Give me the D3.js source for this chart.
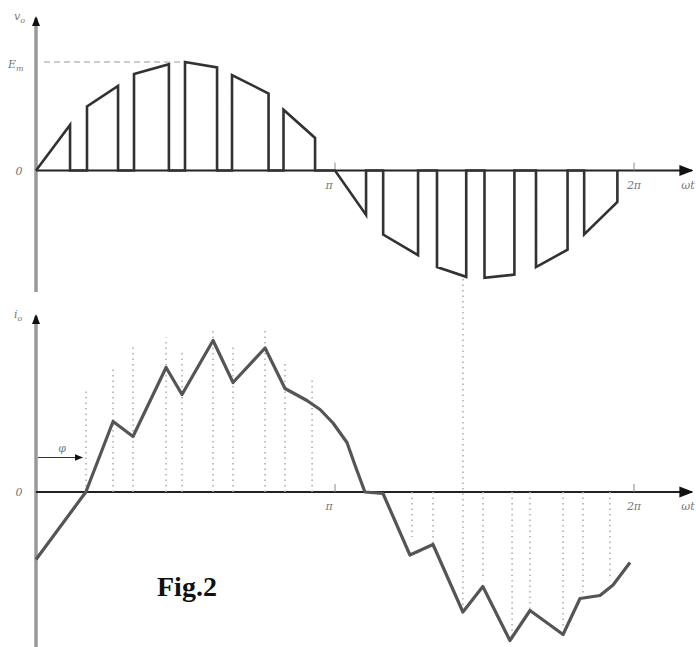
<!DOCTYPE html>
<meta charset="utf-8">
<style>
body, html {
  margin: 0;
  padding: 0;
  background: #fff;
}
.lbl {
  font: italic 11px "DejaVu Serif", "Liberation Serif", serif;
  fill: #777;
}
.fig {
  font: bold 28px "Liberation Serif", "DejaVu Serif", serif;
  fill: #111;
}
</style>
<div id="svg-div"></div>
<script src="https://d3js.org/d3.v7.min.js"></script>
<script>
// switching pulses of the output voltage (angle in degrees, level in E_m units)
const pulseOn   = [0, 30.7, 59, 89.7, 118, 149, 180, 209, 241.4, 270, 301, 330];
const pulseOff  = [20.5, 49.4, 80, 109, 140, 168, 198.7, 230, 259, 288, 320, 350];
const pulseVOn  = [0, 0.59, 0.89, 1.0, 0.88, 0.56, 0, -0.59, -0.89, -0.99, -0.89, -0.59];
const pulseVOff = [0.42, 0.78, 0.98, 0.95, 0.71, 0.30, -0.41, -0.78, -0.98, -0.96, -0.73, -0.29];

// load current
const iAngle = [0, 30, 46.4, 58.4, 78.3, 87.9, 106.6, 118.6, 137.9, 149.9, 163.1, 171, 178.8,
                187.2, 192, 198, 208.9, 225.1, 239, 257, 269, 285.3, 297.4, 317.3, 327.5,
                339.5, 347.4, 357.6];
const iValue = [-0.45, 0, 0.47, 0.37, 0.83, 0.65, 1.01, 0.73, 0.96, 0.69, 0.61, 0.55, 0.46,
                0.33, 0.18, 0, -0.01, -0.42, -0.35, -0.8, -0.63, -0.99, -0.79, -0.95, -0.71,
                -0.69, -0.62, -0.47];

// dotted guide lines in the current plot (angle, end level)
const guideAngle = [30.1, 46.4, 58.4, 78.3, 87.9, 106.6, 118.6, 137.9, 149.9, 166.2,
                    226.4, 239, 269.1, 286.6, 297.4, 317.3, 329.3, 345.5];
const guideValue = [0.69, 0.83, 0.98, 1.03, 0.93, 1.09, 0.99, 1.09, 0.87, 0.75,
                    -0.3, -0.37, -0.59, -0.97, -0.79, -0.9, -0.67, -0.59];

const tickAngle = [180, 360];
const tickLabel = ["\u03c0", "2\u03c0"];
const phiAngle = 29;

const width = 696, height = 647;

let svg = d3.select("#svg-div")
            .append("svg")
            .attr("width", width)
            .attr("height", height)
            .style("background", "#fff");

let x = d3.scaleLinear().domain([0, 360]).range([36, 634]);
let yTop = d3.scaleLinear().domain([-1, 1]).range([279, 62]);
let yBot = d3.scaleLinear().domain([-1, 1]).range([642, 342]);

let defs = svg.append("defs");
defs.append("marker")
    .attr("id", "arr")
    .attr("viewBox", "0 0 10 10")
    .attr("refX", 9).attr("refY", 5)
    .attr("markerWidth", 7).attr("markerHeight", 7)
    .attr("orient", "auto")
  .append("path")
    .attr("d", "M0,1L10,5L0,9Z")
    .attr("fill", "#111");
defs.append("filter")
    .attr("id", "soft")
  .append("feGaussianBlur")
    .attr("stdDeviation", 0.5);

function axes(y, y0, y1, yLabel) {
  // vertical axis
  svg.append("line")
     .attr("x1", x(0)).attr("x2", x(0))
     .attr("y1", y1).attr("y2", y0)
     .attr("stroke", "#999").attr("stroke-width", 3.5);
  svg.append("path")
     .attr("d", "M" + (x(0) - 4) + "," + (y0 + 8) + "L" + x(0) + "," + (y0 - 2) + "L" + (x(0) + 4) + "," + (y0 + 8) + "Z")
     .attr("fill", "#111");
  // horizontal axis
  svg.append("line")
     .attr("x1", x(0)).attr("x2", 692)
     .attr("y1", y(0)).attr("y2", y(0))
     .attr("stroke", "#222").attr("stroke-width", 2)
     .attr("marker-end", "url(#arr)");
  tickAngle.forEach(function(a, i) {
    svg.append("line")
       .attr("x1", x(a)).attr("x2", x(a))
       .attr("y1", y(0) - 8).attr("y2", y(0))
       .attr("stroke", "#888").attr("stroke-width", 1);
    svg.append("text")
       .attr("class", "lbl")
       .attr("x", x(a) - (i ? 0 : 6)).attr("y", y(0) + 18)
       .attr("text-anchor", "middle")
       .text(tickLabel[i]);
  });
  svg.append("text").attr("class", "lbl")
     .attr("x", 688).attr("y", y(0) + 18)
     .attr("text-anchor", "middle")
     .text("\u03c9t");
  svg.append("text").attr("class", "lbl")
     .attr("x", 19).attr("y", y(0) + 4)
     .attr("text-anchor", "middle")
     .text("0");
  let t = svg.append("text").attr("class", "lbl")
     .attr("x", 14).attr("y", y0 + 2);
  t.append("tspan").text(yLabel[0]);
  t.append("tspan").attr("dy", 3).style("font-size", "8px").text(yLabel[1]);
}

axes(yTop, 18, 292, ["v", "o"]);
axes(yBot, 316, 647, ["i", "o"]);

// E_m reference
svg.append("line")
   .attr("x1", x(0) + 8).attr("x2", x(90))
   .attr("y1", yTop(1)).attr("y2", yTop(1))
   .attr("stroke", "#999").attr("stroke-width", 1)
   .attr("stroke-dasharray", "6,4");
let em = svg.append("text").attr("class", "lbl")
   .attr("x", 8).attr("y", yTop(1) + 6);
em.append("tspan").text("E");
em.append("tspan").attr("dy", 3).style("font-size", "8px").text("m");

// PWM voltage waveform
let vPts = [];
pulseOn.forEach(function(a, i) {
  vPts.push([a, 0], [a, pulseVOn[i]], [pulseOff[i], pulseVOff[i]], [pulseOff[i], 0]);
});
let vLine = d3.line()
    .x(function(d) { return x(d[0]); })
    .y(function(d) { return yTop(d[1]); });
svg.append("path")
   .datum(vPts)
   .attr("d", vLine)
   .attr("fill", "none")
   .attr("stroke", "#333")
   .attr("stroke-width", 2.6)
   .attr("stroke-linejoin", "miter")
   .attr("filter", "url(#soft)");

// dotted guides
svg.selectAll(".guide")
   .data(guideAngle)
   .enter().append("line")
   .attr("class", "guide")
   .attr("x1", function(d) { return x(d); })
   .attr("x2", function(d) { return x(d); })
   .attr("y1", yBot(0))
   .attr("y2", function(d, i) { return yBot(guideValue[i]); })
   .attr("stroke", "#aaa")
   .attr("stroke-width", 1.5)
   .attr("stroke-dasharray", "1.5,4");

// long guide linking the two plots
svg.append("line")
   .attr("x1", x(257)).attr("x2", x(257))
   .attr("y1", yTop(-1)).attr("y2", yBot(-0.8))
   .attr("stroke", "#aaa")
   .attr("stroke-width", 1.5)
   .attr("stroke-dasharray", "1.5,4");

// current waveform
let iLine = d3.line()
    .x(function(d, i) { return x(d); })
    .y(function(d, i) { return yBot(iValue[i]); });
svg.append("path")
   .datum(iAngle)
   .attr("d", iLine)
   .attr("fill", "none")
   .attr("stroke", "#555")
   .attr("stroke-width", 3.2)
   .attr("stroke-linejoin", "round")
   .attr("filter", "url(#soft)");

// phase shift marker
let phiY = yBot(0.23);
svg.append("line")
   .attr("x1", x(0) + 2).attr("x2", x(phiAngle) - 2)
   .attr("y1", phiY).attr("y2", phiY)
   .attr("stroke", "#333").attr("stroke-width", 1.2)
   .attr("marker-end", "url(#arr)");
svg.append("text").attr("class", "lbl")
   .attr("x", x(phiAngle / 2) + 2).attr("y", phiY - 6)
   .attr("text-anchor", "middle")
   .text("\u03c6");

svg.append("text")
   .attr("class", "fig")
   .attr("x", 157).attr("y", 596)
   .text("Fig.2");
</script>
